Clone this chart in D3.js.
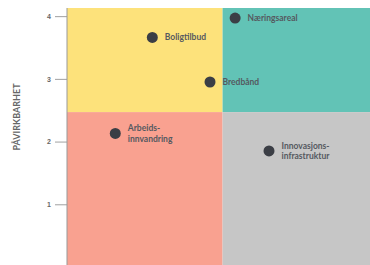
<!DOCTYPE html>
<html>
<head>
<meta charset="utf-8">
<script src="https://cdn.jsdelivr.net/npm/d3@7"></script>
<style>
  body { margin: 0; background: #fff; }
  svg { display: block; font-family: Lato, "Open Sans", sans-serif; }
</style>
</head>
<body>
<div id="chart"></div>
<script>
// data
const labels = [["Boligtilbud"], ["Næringsareal"], ["Bredbånd"], ["Arbeids-", "innvandring"], ["Innovasjons-", "infrastruktur"]];
const xValues = [1.36, 2.68, 2.28, 0.77, 3.22];
const yValues = [3.66, 3.97, 2.95, 2.13, 1.85];
const yTicks = [1, 2, 3, 4];
const xDomain = [0, 4.83];
const yDomain = [0, 4.13];
const xSplit = 2.48;
const ySplit = 2.47;
const quadColors = ["#fde27b", "#62c3b6", "#f9a190", "#c6c6c6"]; // TL, TR, BL, BR

const svgWidth = 370;
const svgHeight = 265;
const margin = { top: 8, right: 0, bottom: -2, left: 67 };
const width = svgWidth - margin.left - margin.right;
const height = svgHeight - margin.top - margin.bottom;

const svg = d3.select("#chart")
  .append("svg")
  .attr("width", svgWidth)
  .attr("height", svgHeight);

const chartGroup = svg.append("g")
  .attr("transform", `translate(${margin.left}, ${margin.top})`);

// scales
const xScale = d3.scaleLinear().domain(xDomain).range([0, width]);
const yScale = d3.scaleLinear().domain(yDomain).range([height, 0]);

// quadrants
const quads = [
  { x0: xDomain[0], x1: xSplit, y0: ySplit, y1: yDomain[1], c: quadColors[0] },
  { x0: xSplit, x1: xDomain[1], y0: ySplit, y1: yDomain[1], c: quadColors[1] },
  { x0: xDomain[0], x1: xSplit, y0: yDomain[0], y1: ySplit, c: quadColors[2] },
  { x0: xSplit, x1: xDomain[1], y0: yDomain[0], y1: ySplit, c: quadColors[3] }
];
chartGroup.selectAll("rect.quad")
  .data(quads)
  .enter()
  .append("rect")
  .attr("class", "quad")
  .attr("x", d => xScale(d.x0))
  .attr("y", d => yScale(d.y1))
  .attr("width", d => xScale(d.x1) - xScale(d.x0))
  .attr("height", d => yScale(d.y0) - yScale(d.y1))
  .attr("fill", d => d.c);

// y axis
const leftAxis = d3.axisLeft(yScale)
  .tickValues(yTicks)
  .tickFormat(d3.format("d"))
  .tickSize(12)
  .tickPadding(4);

const yAxis = chartGroup.append("g").call(leftAxis);
yAxis.select(".domain").remove();
yAxis.selectAll(".tick line").attr("stroke", "#888").attr("stroke-width", 0.8);
yAxis.selectAll(".tick text")
  .attr("fill", "#666")
  .style("font-size", "7px")
  .style("font-weight", "bold");

chartGroup.append("line")
  .attr("x1", 0).attr("x2", 0)
  .attr("y1", 0).attr("y2", height)
  .attr("stroke", "#999")
  .attr("stroke-width", 1);

// axis label
svg.append("text")
  .attr("transform", `translate(20, 117) rotate(-90)`)
  .attr("text-anchor", "middle")
  .attr("fill", "#666")
  .style("font-size", "9px")
  .style("font-weight", "bold")
  .text("PÅVIRKBARHET");

// points
const points = labels.map((l, i) => ({ label: l, x: xValues[i], y: yValues[i] }));

chartGroup.selectAll("circle")
  .data(points)
  .enter()
  .append("circle")
  .attr("cx", d => xScale(d.x))
  .attr("cy", d => yScale(d.y))
  .attr("r", 5.5)
  .attr("fill", "#3b3e45");

const labelText = chartGroup.selectAll("text.lbl")
  .data(points)
  .enter()
  .append("text")
  .attr("class", "lbl")
  .attr("x", d => xScale(d.x) + 12.5)
  .attr("y", d => yScale(d.y) - (d.label.length - 1) * 5.3)
  .attr("fill", "#555960")
  .style("font-size", "8.5px")
  .style("font-weight", "bold");

labelText.selectAll("tspan")
  .data(d => d.label.map((t, j) => ({ t, j, x: xScale(d.x) + 12.5 })))
  .enter()
  .append("tspan")
  .attr("x", d => d.x)
  .attr("dy", d => d.j === 0 ? "0.35em" : "10.7")
  .text(d => d.t);
</script>
</body>
</html>
